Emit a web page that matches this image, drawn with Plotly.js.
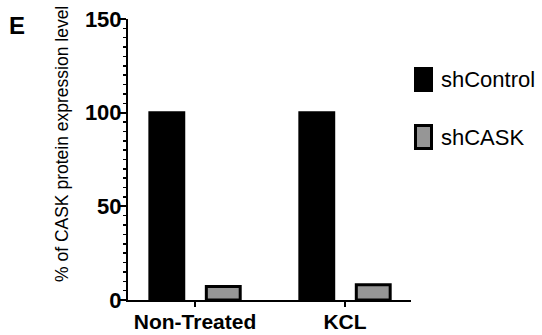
<!DOCTYPE html>
<html>
<head>
<meta charset="utf-8">
<script src="https://cdn.plot.ly/plotly-3.0.1.min.js"></script>
<style>
html,body{margin:0;padding:0;background:#fff;}
#chart{width:542px;height:335px;}
</style>
</head>
<body>
<div id="chart"></div>
<script>
var categories = ["Non-Treated", "KCL"];
var shControl = [100, 100];
var shCASK = [7.2, 8.1];
var seriesNames = ["shControl", "shCASK"];
var yTitle = "% of CASK protein expression level";
var panelLabel = "E";

var FONT = "Liberation Sans, Arial, sans-serif";
var W = 542, H = 335;
var L = 128, R = 131, T = 19, B = 35;
var pw = W - L - R, ph = H - T - B;
function px(x){ return (x - L) / pw; }
function py(y){ return (H - B - y) / ph; }

var traces = [
  {type: "bar", x: categories, y: shControl, name: seriesNames[0],
   marker: {color: "#000000", line: {color: "#000000", width: 3}}},
  {type: "bar", x: categories, y: shCASK, name: seriesNames[1],
   marker: {color: "#969696", line: {color: "#000000", width: 3}}}
];

var layout = {
  width: W, height: H,
  margin: {l: L, r: R, t: T, b: B, pad: 0},
  paper_bgcolor: "#ffffff", plot_bgcolor: "#ffffff",
  showlegend: false,
  barmode: "group", bargap: 0.247, bargroupgap: 0.4,
  font: {family: FONT, color: "#000"},
  xaxis: {
    type: "category", range: [-0.447, 1.44],
    showline: true, linecolor: "#000", linewidth: 2,
    ticks: "outside", ticklen: 5, tickwidth: 2, tickcolor: "#000",
    ticklabelstandoff: -3,
    tickfont: {family: FONT, size: 21, weight: "bold", color: "#000"},
    showgrid: false, zeroline: false, fixedrange: true
  },
  yaxis: {
    range: [0, 150], tickvals: [0, 50, 100, 150],
    showline: true, linecolor: "#000", linewidth: 2,
    ticks: "outside", ticklen: 6, tickwidth: 2, tickcolor: "#000",
    ticklabelstandoff: -6,
    minor: {dtick: 5, ticks: "outside", ticklen: 3, tickwidth: 1.5, tickcolor: "#000", showgrid: false},
    tickfont: {family: FONT, size: 22, weight: "bold", color: "#000"},
    showgrid: false, zeroline: false, fixedrange: true
  },
  shapes: [
    {type: "rect", xref: "paper", yref: "paper",
     x0: px(414), x1: px(433), y0: py(92), y1: py(67),
     fillcolor: "#000", line: {color: "#000", width: 0}},
    {type: "rect", xref: "paper", yref: "paper",
     x0: px(415.5), x1: px(431.5), y0: py(148.5), y1: py(125.5),
     fillcolor: "#969696", line: {color: "#000", width: 3}}
  ],
  annotations: [
    {text: yTitle, xref: "paper", yref: "paper", x: px(62), y: py(144),
     showarrow: false, textangle: -90, xanchor: "center", yanchor: "middle",
     font: {family: FONT, size: 17.5, color: "#000"}},
    {text: panelLabel, xref: "paper", yref: "paper", x: px(17), y: py(25),
     showarrow: false, xanchor: "center", yanchor: "middle",
     font: {family: FONT, size: 24, weight: "bold", color: "#000"}},
    {text: seriesNames[0], xref: "paper", yref: "paper", x: px(439), y: py(79),
     showarrow: false, xanchor: "left", yanchor: "middle",
     font: {family: FONT, size: 22, color: "#000"}},
    {text: seriesNames[1], xref: "paper", yref: "paper", x: px(439), y: py(137),
     showarrow: false, xanchor: "left", yanchor: "middle",
     font: {family: FONT, size: 22, color: "#000"}}
  ]
};

Plotly.newPlot("chart", traces, layout, {staticPlot: true, displayModeBar: false});
</script>
</body>
</html>
